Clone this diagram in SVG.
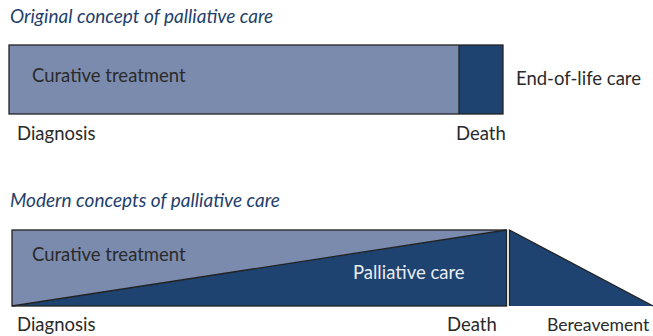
<svg xmlns="http://www.w3.org/2000/svg" width="653" height="336" viewBox="0 0 653 336">
  <style>
    .title { font-family: Lato, "Open Sans", sans-serif; font-style: italic; font-size: 19px; fill: #1f3f6b; }
    .lbl { font-family: Lato, "Open Sans", sans-serif; font-size: 18.5px; fill: #2a2a2a; }
    .inv { font-family: Lato, "Open Sans", sans-serif; font-size: 18.5px; fill: #e8ecf3; }
    .light { fill: #7a8bae; }
    .dark { fill: #1e4370; }
    .edge { fill: none; stroke: #222; stroke-width: 1.3; }
  </style>
  <rect width="653" height="336" fill="#ffffff"/>

  <!-- Original concept -->
  <g id="original">
    <text class="title" x="10" y="23">Original concept of palliative care</text>
    <g id="curative-original">
      <rect class="light" x="9" y="45" width="450" height="69"/>
      <text class="lbl" x="32" y="82">Curative treatment</text>
    </g>
    <g id="end-of-life">
      <rect class="dark" x="459" y="45" width="44" height="69"/>
      <text class="lbl" x="516" y="85">End-of-life care</text>
    </g>
    <rect class="edge" x="9" y="45" width="494" height="69"/>
    <line class="edge" x1="459" y1="45" x2="459" y2="114"/>
    <text class="lbl" x="17" y="140">Diagnosis</text>
    <text class="lbl" x="456" y="140">Death</text>
  </g>

  <!-- Modern concepts -->
  <g id="modern">
    <text class="title" x="10" y="207">Modern concepts of palliative care</text>
    <g id="curative-modern">
      <polygon class="light" points="12,230 507,230 12,306"/>
      <text class="lbl" x="32" y="261">Curative treatment</text>
    </g>
    <g id="palliative">
      <polygon class="dark" points="12,306 507,230 507,306"/>
      <text class="inv" x="353" y="279">Palliative care</text>
    </g>
    <g id="bereavement">
      <polygon class="dark" points="509.5,230 653,306 509.5,306"/>
      <text class="lbl" x="547" y="331" style="font-size:17.6px">Bereavement</text>
    </g>
    <rect class="edge" x="12" y="230" width="494.5" height="76"/>
    <line class="edge" x1="12" y1="306" x2="506.5" y2="230"/>
    <polyline class="edge" points="509.5,306 509.5,230 653,306"/>
    <text class="lbl" x="17" y="331">Diagnosis</text>
    <text class="lbl" x="447" y="331">Death</text>
  </g>
</svg>
